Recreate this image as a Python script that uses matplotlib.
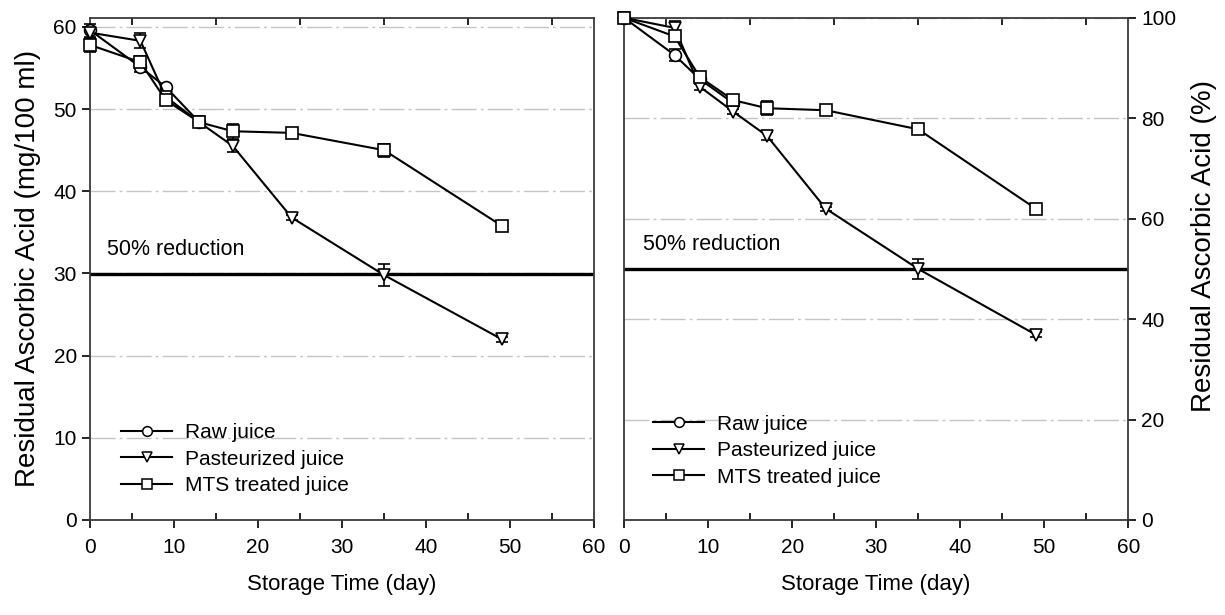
import matplotlib.pyplot as plt
import numpy as np
from matplotlib.lines import Line2D
from matplotlib.ticker import MultipleLocator

plt.rcParams["font.family"] = ["Liberation Sans", "DejaVu Sans"]

# storage days
days = [0, 6, 9, 13, 17, 24, 35, 49]
raw_days = [0, 6, 9, 13]

# left panel: mg/100 ml
raw_mg = [59.6, 55.1, 52.7, 48.4]
raw_mg_err = [0.8, 0.6, 0.4, 0.3]
past_mg = [59.3, 58.3, 51.5, 48.4, 45.5, 36.8, 29.8, 22.0]
past_mg_err = [0.6, 0.9, 0.5, 0.3, 0.7, 0.3, 1.3, 0.3]
mts_mg = [57.8, 55.7, 51.1, 48.4, 47.3, 47.1, 45.0, 35.8]
mts_mg_err = [0.8, 0.7, 0.6, 0.4, 0.9, 0.4, 0.8, 0.4]

# right panel: % of initial
raw_pct = [100.0, 92.6, 87.8, 83.0]
raw_pct_err = [0.5, 1.2, 0.6, 0.5]
past_pct = [100.0, 98.0, 86.3, 81.3, 76.5, 62.0, 50.0, 36.9]
past_pct_err = [0.5, 1.4, 0.6, 0.5, 0.8, 0.4, 2.0, 0.5]
mts_pct = [100.0, 96.3, 88.2, 83.6, 82.0, 81.6, 77.8, 62.0]
mts_pct_err = [0.5, 1.0, 0.8, 0.5, 1.4, 0.4, 1.0, 0.6]

series_labels = ["Raw juice", "Pasteurized juice", "MTS treated juice"]
markers = ["o", "v", "s"]
marker_sizes = [8.5, 9, 8]

fig = plt.figure(figsize=(12.25, 6.15), dpi=100)
ax1 = fig.add_axes([0.0735, 0.1545, 0.4115, 0.8165])
ax2 = fig.add_axes([0.5095, 0.1545, 0.4115, 0.8165])


def draw_panel(ax, data, limit, legend_anchor):
    for (x, y, e), mk, ms in zip(data, markers, marker_sizes):
        ax.errorbar(x, y, yerr=e, color="black", lw=1.5, marker=mk,
                    ms=ms, mfc="white", mec="black", mew=1.2,
                    capsize=4.5, elinewidth=1.2, capthick=1.2,
                    zorder=3, clip_on=False)
    ax.axhline(limit, color="black", lw=2.4, zorder=2)
    ax.set_xlim(0, 60)
    ax.xaxis.set_major_locator(MultipleLocator(10))
    ax.xaxis.set_minor_locator(MultipleLocator(5))
    ax.tick_params(axis="x", which="major", direction="out", length=6,
                   width=1.2, labelsize=15, pad=7)
    ax.tick_params(axis="x", which="minor", direction="in", length=5,
                   width=1.2, top=True)
    ax.grid(axis="y", color="#c4c4c4", ls=(0, (18, 3, 2, 3)), lw=1.0, zorder=1)
    for s in ax.spines.values():
        s.set_linewidth(1.3)
        s.set_color("#3a3a3a")
    ax.set_xlabel("Storage Time (day)", fontsize=16, labelpad=12)
    handles = [Line2D([], [], color="black", lw=1.5, marker=mk, ms=ms - 1.5,
                      mfc="white", mec="black", mew=1.1)
               for mk, ms in zip(markers, marker_sizes)]
    ax.legend(handles, series_labels, loc="center left",
              bbox_to_anchor=legend_anchor, frameon=False, fontsize=15,
              handlelength=2.45, labelspacing=0.36, handletextpad=0.6,
              borderaxespad=0, borderpad=0)


draw_panel(ax1, [(raw_days, raw_mg, raw_mg_err),
                 (days, past_mg, past_mg_err),
                 (days, mts_mg, mts_mg_err)], 29.9, (0.0615, 0.121))
ax1.set_ylim(0, 61.1)
ax1.yaxis.set_major_locator(MultipleLocator(10))
ax1.tick_params(axis="y", which="major", direction="out", length=6,
                width=1.2, labelsize=15)
ax1.set_ylabel("Residual Ascorbic Acid (mg/100 ml)", fontsize=20, labelpad=9)
ax1.text(2.0, 32.2, "50% reduction", fontsize=15.5, va="baseline")

draw_panel(ax2, [(raw_days, raw_pct, raw_pct_err),
                 (days, past_pct, past_pct_err),
                 (days, mts_pct, mts_pct_err)], 50, (0.0575, 0.138))
ax2.set_ylim(0, 100)
ax2.yaxis.set_major_locator(MultipleLocator(20))
ax2.yaxis.tick_right()
ax2.yaxis.set_label_position("right")
ax2.tick_params(axis="y", which="major", direction="out", length=6,
                width=1.2, labelsize=15)
ax2.set_ylabel("Residual Ascorbic Acid (%)", fontsize=20)
ax2.yaxis.set_label_coords(1.125, 0.545)
ax2.text(2.2, 53.8, "50% reduction", fontsize=15.5, va="baseline")

fig.savefig("out.png", dpi=100)
